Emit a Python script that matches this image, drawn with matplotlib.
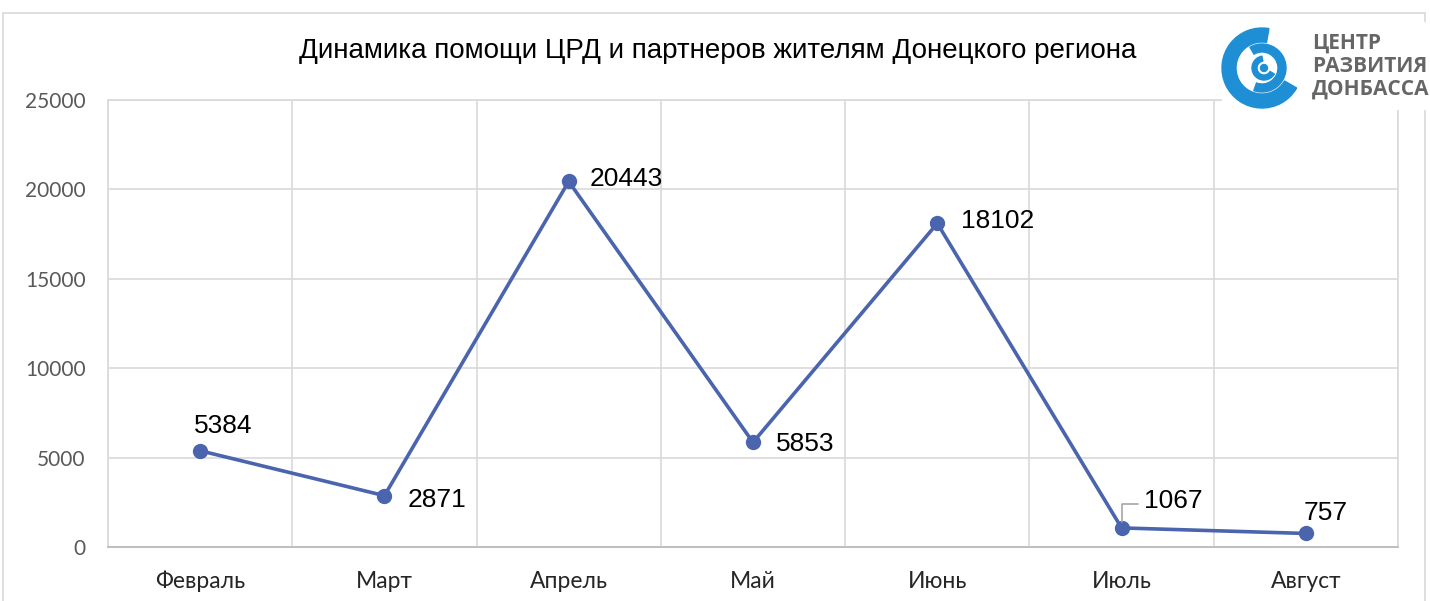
import numpy as np
import matplotlib
matplotlib.use('Agg')
import matplotlib.pyplot as plt
from matplotlib.patches import Rectangle, Wedge, Circle

months = ['Февраль', 'Март', 'Апрель', 'Май', 'Июнь', 'Июль', 'Август']
values = [5384, 2871, 20443, 5853, 18102, 1067, 757]
# label offsets in pixels (dx, dy)
label_dx = [-6, 23, 21, 23, 24, 22, -2]
label_dy = [25, -4, 2, -2, 2, 27, 20]

W, H = 1430, 601
fig = plt.figure(figsize=(W / 100, H / 100), dpi=100)
fig.patch.set_facecolor('white')

# outer chart border
fig.patches.append(Rectangle((3 / W, -0.01), 1422 / W, 1 - 13 / H + 0.01,
                             transform=fig.transFigure, fill=False,
                             edgecolor='#d9d9d9', linewidth=1.2))

ax = fig.add_axes([108 / W, 1 - 547 / H, 1290 / W, 447 / H])
x = np.arange(len(months))
line_color = '#4a65ae'
ax.plot(x, values, color=line_color, linewidth=2.6, marker='o', markersize=10,
        zorder=3)

ax.set_xlim(-0.5, len(months) - 0.5)
ax.set_ylim(0, 25000)
ax.set_yticks(np.arange(0, 25001, 5000))
ax.set_xticks(x)
ax.set_xticklabels(months)
ax.set_xticks(np.arange(-0.5, len(months), 1), minor=True)
ax.grid(True, which='major', axis='y', color='#d9d9d9', linewidth=1.2)
ax.grid(True, which='minor', axis='x', color='#d9d9d9', linewidth=1.2)
ax.tick_params(which='both', length=0)
ax.tick_params(axis='y', pad=16, labelsize=15, labelcolor='#595959')
ax.tick_params(axis='x', pad=17, labelsize=16.5, labelcolor='#262626')
for lab in ax.get_xticklabels() + ax.get_yticklabels():
    lab.set_fontfamily('Lato')
for s in ['left', 'right', 'top']:
    ax.spines[s].set_color('#d9d9d9')
    ax.spines[s].set_linewidth(1.2)
ax.spines['bottom'].set_color('#bfbfbf')
ax.spines['bottom'].set_linewidth(1.4)

for i, v in enumerate(values):
    ax.annotate(str(v), (i, v), xytext=(label_dx[i], label_dy[i]),
                textcoords='offset pixels', fontsize=19,
                fontfamily='Liberation Sans', color='black',
                ha='left', va='center', zorder=4)

# leader line for July label
ax.annotate('', (5, values[5]), xytext=(16, 24), textcoords='offset pixels',
            arrowprops=dict(arrowstyle='-', color='#a6a6a6', lw=1.2,
                            connectionstyle='angle,angleA=0,angleB=90,rad=0',
                            shrinkA=0, shrinkB=4))

fig.text(718 / W, 1 - 51 / H,
         'Динамика помощи ЦРД и партнеров жителям Донецкого региона',
         ha='center', va='center', fontsize=20, fontfamily='Liberation Sans',
         color='black')

# logo
fig.patches.append(Rectangle((1222 / W, 1 - 110 / H), 208 / W, 88 / H,
                             transform=fig.transFigure, facecolor='white',
                             edgecolor='none', zorder=5))
lax = fig.add_axes([1218 / W, 1 - 112 / H, 88 / W, 88 / H], zorder=6)
lax.set_xlim(-44, 44)
lax.set_ylim(-44, 44)
lax.set_aspect('equal')
lax.axis('off')
blue = '#1e8fd5'
lax.add_patch(Wedge((0, 0), 40, 80, 330, width=14, color=blue))
lax.add_patch(Wedge((0, 0), 24, 250, 480, width=8, color=blue))
lax.add_patch(Wedge((2, 0), 12, 100, 330, width=5, color=blue))
lax.add_patch(Circle((2, 0), 3.5, color=blue))
for j, t in enumerate(['ЦЕНТР', 'РАЗВИТИЯ', 'ДОНБАССА']):
    fig.text(1312 / W, 1 - (43 + j * 23) / H, t, ha='left', va='center',
             fontsize=15, fontweight='bold', fontfamily='Open Sans',
             color='#666666', zorder=7)

fig.savefig('out.png', dpi=100)
